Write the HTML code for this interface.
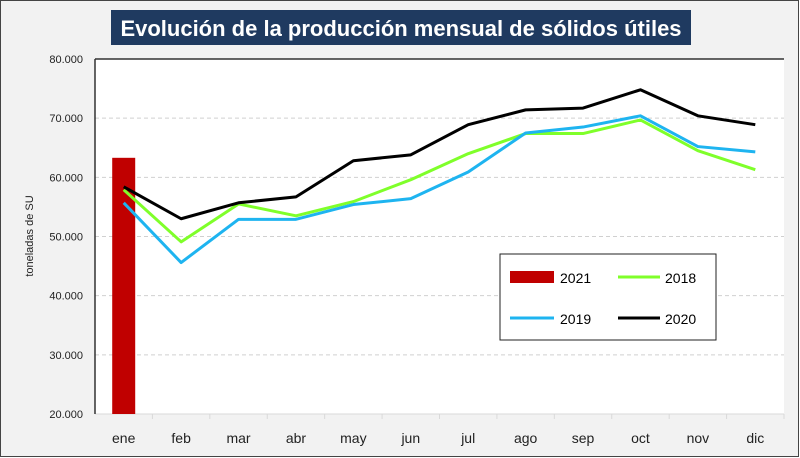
<!DOCTYPE html>
<html><head><meta charset="utf-8"><style>
body{margin:0;background:#fff}
#wrap{position:relative;width:800px;height:458px;overflow:hidden}
svg text{font-family:"Liberation Sans",sans-serif}
</style></head><body>
<div id="wrap">
<svg id="c" width="800" height="458" xmlns="http://www.w3.org/2000/svg">
<rect x="0.5" y="0.5" width="798" height="456" fill="#f2f2f2" stroke="#444"/>
<rect x="111" y="10" width="580" height="35" fill="#1f3a60"/>
<text x="401" y="36" text-anchor="middle" fill="#fff" font-size="22" font-weight="bold">Evolución de la producción mensual de sólidos útiles</text>
<rect x="95" y="59" width="689" height="355" fill="#fff"/>
<text transform="translate(33,236) rotate(-90)" text-anchor="middle" font-size="11" fill="#222">toneladas de SU</text>
<g id="grid"></g><g id="marks"></g>
<line x1="95" y1="59" x2="784" y2="59" stroke="#333" stroke-width="1.5"/>
<line x1="95" y1="59" x2="95" y2="414" stroke="#333" stroke-width="1.5"/>
<g>
<rect x="500" y="254" width="216" height="86" fill="#fff" stroke="#222"/>
<rect x="510" y="271" width="44" height="12" fill="#c00000"/>
<text x="560" y="283" font-size="14">2021</text>
<line x1="618" y1="277" x2="660" y2="277" stroke="#7fff2a" stroke-width="3"/>
<text x="665" y="283" font-size="14">2018</text>
<line x1="510" y1="318" x2="554" y2="318" stroke="#1eb4f0" stroke-width="3"/>
<text x="560" y="324" font-size="14">2019</text>
<line x1="618" y1="318" x2="660" y2="318" stroke="#000" stroke-width="3"/>
<text x="665" y="324" font-size="14">2020</text>
</g>
</svg></div>
<script>
const categories=["ene","feb","mar","abr","may","jun","jul","ago","sep","oct","nov","dic"];
const yTicks=[20000,30000,40000,50000,60000,70000,80000];
const yTickLabels=["20.000","30.000","40.000","50.000","60.000","70.000","80.000"];
const s2021=[63300];
const s2018=[57900,49100,55500,53500,55900,59600,64000,67400,67400,69700,64500,61300];
const s2019=[55700,45600,52900,52900,55400,56400,60900,67500,68500,70400,65200,64300];
const s2020=[58400,53000,55700,56700,62800,63800,68900,71400,71700,74800,70400,68900];
const NS="http://www.w3.org/2000/svg";
const L=95,R=784,T=59,B=414,ymin=20000,ymax=80000;
const band=(R-L)/categories.length;
const x=i=>L+band*(i+0.5);
const y=v=>B-(v-ymin)/(ymax-ymin)*(B-T);
const grid=document.getElementById('grid'),marks=document.getElementById('marks');
function mk(tag,attrs,parent){const e=document.createElementNS(NS,tag);for(const k in attrs)e.setAttribute(k,attrs[k]);parent.appendChild(e);return e;}
yTicks.forEach((v,i)=>{
  if(v>ymin&&v<ymax){const g=mk('line',{x1:L,x2:R,y1:y(v),y2:y(v),stroke:'#d0d0d0','stroke-dasharray':'4,3'},grid);
  
  }
  const t=mk('text',{x:83,y:y(v)+4,'text-anchor':'end','font-size':'11',fill:'#222'},grid);
  t.textContent=yTickLabels[i];
  
  
});
const ax=mk('line',{x1:L,x2:R,y1:B,y2:B,stroke:'#d9d9d9'},grid);


categories.forEach((c,i)=>{
  const tk=mk('line',{x1:L+band*(i+1),x2:L+band*(i+1),y1:B,y2:B+5,stroke:'#d9d9d9'},grid);
  
  
  const t=mk('text',{x:x(i),y:443,'text-anchor':'middle','font-size':'14',fill:'#222'},grid);
  t.textContent=c;
  
  
});
s2021.forEach((v,i)=>{
  const b=mk('rect',{x:x(i)-11.5,y:y(v),width:23,height:B-y(v),fill:'#c00000'},marks);
  
  
});
[[s2018,'#7fff2a','2018'],[s2019,'#1eb4f0','2019'],[s2020,'#000','2020']].forEach(([s,col,n])=>{
  const p=mk('polyline',{points:s.map((v,i)=>x(i)+','+y(v)).join(' '),fill:'none',stroke:col,'stroke-width':3,'stroke-linejoin':'round'},marks);
  
  
});
</script>
</body></html>
